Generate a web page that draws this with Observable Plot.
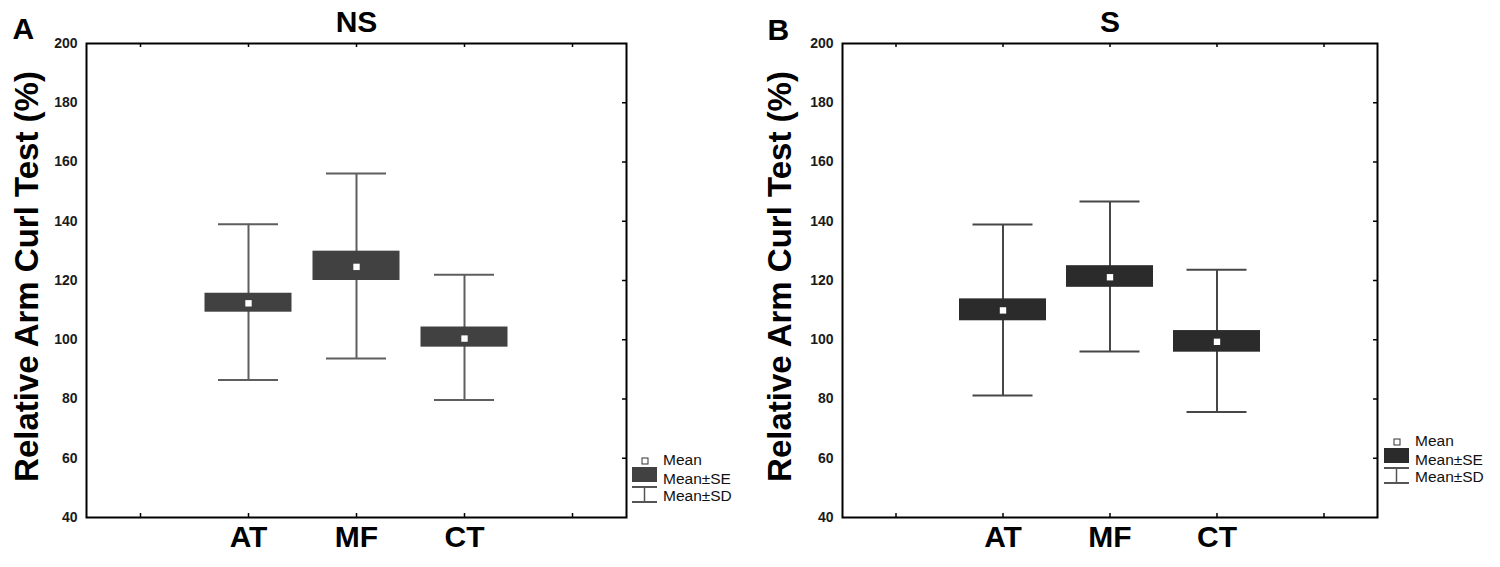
<!DOCTYPE html>
<html>
<head>
<meta charset="utf-8">
<script src="https://cdn.jsdelivr.net/npm/d3@7"></script>
<script src="https://cdn.jsdelivr.net/npm/@observablehq/plot@0.6"></script>
<style>
  html, body { margin: 0; padding: 0; background: #fff; }
  #wrap { position: relative; width: 1500px; height: 567px; display: flex; }
  #wrap > div { width: 750px; height: 567px; }
</style>
</head>
<body>
<div id="wrap"><div id="pa"></div><div id="pb"></div></div>
<script>
// ---- data ----
const categories = ["AT", "MF", "CT"];
const xDomain = [" ", "AT", "MF", "CT", "  "];
const yTicks = [40, 60, 80, 100, 120, 140, 160, 180, 200];

// Panel A (NS)
const nsMean = [112.3, 124.6, 100.4];
const nsSeLo = [109.3, 120.0, 97.5];
const nsSeHi = [115.7, 129.9, 104.3];
const nsSdLo = [86.4, 93.7, 79.7];
const nsSdHi = [139.0, 156.1, 121.9];

// Panel B (S)
const sMean = [109.9, 121.1, 99.3];
const sSeLo = [106.4, 117.7, 95.8];
const sSeHi = [113.8, 125.0, 103.1];
const sSdLo = [81.2, 96.0, 75.6];
const sSdHi = [138.9, 146.7, 123.6];

const yTitle = "Relative Arm Curl Test (%)";
const legendLabels = ["Mean", "Mean\u00b1SE", "Mean\u00b1SD"];

function rows(mean, seLo, seHi, sdLo, sdHi) {
  return categories.map((c, i) => ({cat: c, mean: mean[i], seLo: seLo[i], seHi: seHi[i], sdLo: sdLo[i], sdHi: sdHi[i]}));
}

function panel({data, title, letter, mL, mR, boxFill, whisk, yTitleDx, letterDx, letterDy, legX, legY}) {
  const W = 750, H = 567, mT = 43, mB = 50;
  const fw = W - mL - mR, fh = H - mT - mB;
  const band = fw / xDomain.length;
  const boxInset = (band - 87) / 2;
  const capInset = (band - 60) / 2;
  const svg = Plot.plot({
    width: W, height: H,
    marginLeft: mL, marginRight: mR, marginTop: mT, marginBottom: mB,
    style: {fontFamily: "'Liberation Sans', Arial, sans-serif", color: "#111", background: "white"},
    x: {type: "band", domain: xDomain, padding: 0},
    y: {domain: [40, 200]},
    marks: [
      Plot.axisY({ticks: yTicks, tickSize: 0, tickPadding: 9, fontSize: 14, fontWeight: "bold", label: null, fill: "#1a1a1a"}),
      Plot.axisX({tickSize: 0, tickPadding: 8, fontSize: 30, fontWeight: "bold", label: null, fill: "#000",
        tickFormat: d => categories.includes(d) ? d : ""}),
      // inward frame ticks
      Plot.tickY(yTicks.slice(1, -1), {y: d => d, insetLeft: fw - 4, stroke: "#000", strokeWidth: 1.5}),
      Plot.tickX(xDomain, {x: d => d, insetBottom: fh - 4, stroke: "#000", strokeWidth: 1.5}),
      Plot.tickX(xDomain, {x: d => d, insetTop: fh - 4, stroke: "#000", strokeWidth: 1.5}),
      // SD whiskers
      Plot.ruleX(data, {x: "cat", y1: "sdLo", y2: "sdHi", stroke: whisk, strokeWidth: 2}),
      Plot.tickY(data, {x: "cat", y: "sdLo", stroke: whisk, strokeWidth: 2, insetLeft: capInset, insetRight: capInset}),
      Plot.tickY(data, {x: "cat", y: "sdHi", stroke: whisk, strokeWidth: 2, insetLeft: capInset, insetRight: capInset}),
      // SE boxes
      Plot.barY(data, {x: "cat", y1: "seLo", y2: "seHi", fill: boxFill, insetLeft: boxInset, insetRight: boxInset}),
      // Means
      Plot.dot(data, {x: "cat", y: "mean", symbol: "square", r: 3.6, fill: "white", stroke: null}),
      Plot.frame({stroke: "#000", strokeWidth: 2}),
      // texts
      Plot.text([yTitle], {frameAnchor: "left", rotate: -90, dx: yTitleDx, dy: -4, textAnchor: "middle", lineAnchor: "bottom",
        fontSize: 33, fontWeight: "bold", fill: "#000", text: d => d}),
      Plot.text([title], {frameAnchor: "top", dy: -12, textAnchor: "middle", lineAnchor: "bottom", fontSize: 30, fontWeight: "bold", fill: "#000", text: d => d}),
      Plot.text([letter], {frameAnchor: "top-left", dx: letterDx, dy: letterDy, textAnchor: "start", lineAnchor: "bottom",
        fontSize: 30, fontWeight: "bold", fill: "#000", text: d => d})
    ]
  });
  // legend (outside the frame, right side)
  const g = d3.select(svg).append("g")
    .attr("font-family", "'Liberation Sans', Arial, sans-serif").attr("font-size", 15.5)
    .attr("fill", "#111").attr("text-anchor", "start");
  const sx = legX; // left edge of symbols
  g.append("rect").attr("x", sx + 10).attr("y", legY - 3).attr("width", 6).attr("height", 6)
    .attr("fill", "white").attr("stroke", "#333").attr("stroke-width", 1);
  g.append("rect").attr("x", sx).attr("y", legY + 6).attr("width", 25).attr("height", 15).attr("fill", boxFill);
  g.append("line").attr("x1", sx).attr("x2", sx + 25).attr("y1", legY + 26).attr("y2", legY + 26).attr("stroke", "#555").attr("stroke-width", 2);
  g.append("line").attr("x1", sx).attr("x2", sx + 25).attr("y1", legY + 41).attr("y2", legY + 41).attr("stroke", "#555").attr("stroke-width", 2);
  g.append("line").attr("x1", sx + 12.5).attr("x2", sx + 12.5).attr("y1", legY + 26).attr("y2", legY + 41).attr("stroke", "#555").attr("stroke-width", 1.5);
  legendLabels.forEach((t, i) => {
    g.append("text").attr("x", sx + 31).attr("y", legY + 4 + [0, 19, 36][i]).text(t);
  });
  return svg;
}

document.getElementById("pa").appendChild(panel({
  data: rows(nsMean, nsSeLo, nsSeHi, nsSdLo, nsSdHi), title: "NS", letter: "A",
  mL: 86, mR: 124, boxFill: "#414141", whisk: "#5e5e5e",
  yTitleDx: -49, letterDx: -74, letterDy: -5, legX: 632, legY: 461
}));
document.getElementById("pb").appendChild(panel({
  data: rows(sMean, sSeLo, sSeHi, sSdLo, sSdHi), title: "S", letter: "B",
  mL: 92, mR: 123, boxFill: "#2b2b2b", whisk: "#474747",
  yTitleDx: -52, letterDx: -75, letterDy: -4, legX: 634, legY: 442
}));
</script>
</body>
</html>
